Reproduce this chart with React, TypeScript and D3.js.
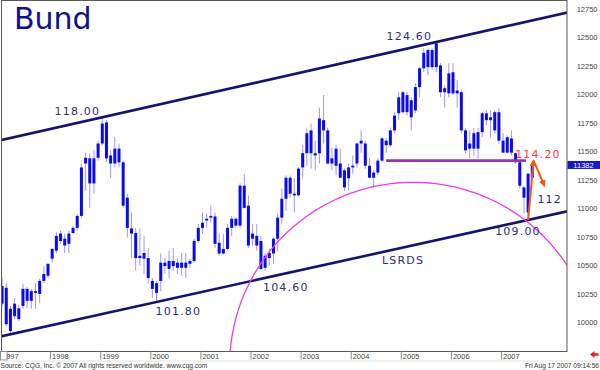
import React from 'react';
import * as d3 from 'd3';

// monthly Bund future, Jan 1997 .. Aug 2007 (price x100)
const openPx = [
  10165, 10305, 9925, 10055, 10125, 10145, 10295, 10190, 10275, 10250,
  10365, 10410, 10560, 10630, 10780, 10735, 10690, 10785, 10830, 10935,
  11395, 11440, 11220, 11445, 11570, 11755, 11465, 11395, 11525, 11405,
  11095, 10825, 10785, 10565, 10610, 10565, 10365, 10260, 10365, 10525,
  10470, 10540, 10480, 10525, 10480, 10515, 10540, 10715, 10830, 10895,
  10920, 10930, 10700, 10605, 10645, 10830, 10910, 10850, 11200, 11025,
  10735, 10760, 10715, 10480, 10565, 10605, 10735, 10920, 11085, 11270,
  11130, 11115, 11360, 11485, 11685, 11485, 11485, 11775, 11685, 11395,
  11525, 11395, 11335, 11265, 11360, 11395, 11570, 11570, 11375, 11270,
  11315, 11420, 11595, 11555, 11685, 11835, 11845, 11995, 11800, 11860,
  12065, 12230, 12390, 12240, 12450, 12255, 12020, 12010, 12195, 12010,
  12020, 11685, 11525, 11525, 11670, 11670, 11835, 11775, 11685, 11845,
  11595, 11490, 11615, 11485, 11405, 11185, 10965, 11270,
];
const highPx = [
  10390, 10345, 10145, 10215, 10155, 10340, 10310, 10295, 10345, 10385,
  10495, 10515, 10655, 10790, 10805, 10780, 10805, 10850, 10955, 11395,
  11490, 11485, 11510, 11595, 11800, 11775, 11510, 11625, 11570, 11420,
  11130, 10965, 10830, 10825, 10760, 10655, 10390, 10365, 10605, 10565,
  10630, 10655, 10565, 10610, 10610, 10560, 10735, 10865, 10965, 10955,
  11025, 10965, 10780, 10780, 10865, 10935, 10920, 11220, 11305, 11115,
  10865, 10865, 10760, 10605, 10645, 10745, 10955, 11175, 11290, 11290,
  11265, 11360, 11555, 11705, 11745, 11595, 11885, 11995, 11710, 11535,
  11555, 11525, 11350, 11395, 11465, 11580, 11685, 11595, 11445, 11335,
  11440, 11625, 11615, 11710, 11845, 12020, 12035, 12020, 11975, 12100,
  12240, 12405, 12405, 12405, 12460, 12275, 12080, 12275, 12275, 12125,
  12035, 11705, 11685, 11705, 11705, 11845, 11860, 11860, 11860, 11880,
  11660, 11640, 11685, 11490, 11420, 11200, 11315, 11420,
];
const lowPx = [
  10145, 9970, 9900, 10030, 10015, 10120, 10125, 10120, 10120, 10170,
  10345, 10390, 10525, 10605, 10690, 10610, 10610, 10780, 10805, 10920,
  11155, 11005, 11130, 11420, 11555, 11405, 11265, 11360, 11360, 11005,
  10745, 10565, 10455, 10500, 10425, 10345, 10215, 10180, 10275, 10425,
  10390, 10455, 10425, 10410, 10390, 10480, 10525, 10700, 10780, 10830,
  10875, 10655, 10585, 10595, 10630, 10760, 10830, 10830, 11000, 10655,
  10675, 10630, 10460, 10455, 10500, 10515, 10630, 10865, 10980, 11095,
  10965, 11105, 11270, 11375, 11350, 11335, 11395, 11570, 11385, 11335,
  11290, 11265, 11155, 11155, 11305, 11360, 11490, 11350, 11265, 11185,
  11290, 11405, 11485, 11535, 11660, 11775, 11835, 11815, 11685, 11835,
  11975, 12195, 12170, 12215, 12195, 11975, 11885, 11975, 11995, 11885,
  11660, 11485, 11445, 11465, 11440, 11625, 11730, 11625, 11660, 11570,
  11485, 11485, 11465, 11395, 11175, 10955, 10900, 11265,
];
const closePx = [
  10320, 9985, 10120, 10165, 10030, 10295, 10190, 10275, 10260, 10365,
  10425, 10515, 10645, 10760, 10715, 10675, 10780, 10830, 10935, 11360,
  11445, 11220, 11440, 11570, 11745, 11440, 11395, 11525, 11405, 11025,
  10830, 10780, 10565, 10585, 10560, 10390, 10295, 10345, 10525, 10495,
  10540, 10495, 10525, 10480, 10525, 10540, 10715, 10830, 10875, 10910,
  10935, 10690, 10605, 10645, 10830, 10910, 10850, 11200, 11005, 10675,
  10780, 10675, 10470, 10585, 10610, 10735, 10920, 11085, 11270, 11130,
  11115, 11350, 11485, 11660, 11485, 11465, 11790, 11685, 11395, 11440,
  11375, 11270, 11185, 11360, 11375, 11570, 11595, 11375, 11270, 11315,
  11420, 11615, 11555, 11685, 11815, 11975, 12020, 11845, 11950, 12065,
  12230, 12365, 12240, 12390, 12240, 12020, 12055, 12185, 12010, 12035,
  11685, 11510, 11570, 11660, 11525, 11835, 11775, 11800, 11845, 11595,
  11490, 11625, 11490, 11405, 11200, 11095, 11305, 11382,
];

const yearLabels = ['1997', '1998', '1999', '2000', '2001', '2002', '2003', '2004', '2005', '2006', '2007'];
const priceTicks = [10000, 10250, 10500, 10750, 11000, 11250, 11500, 11750, 12000, 12250, 12500, 12750];
const lastPrice = 11382;

// drawing tools, as [month index, price]
const upperChannel = [[24.5, 11800], [104.5, 12460]];
const lowerChannel = [[37.5, 10180], [126.5, 10900]];
const neckline = [[92.5, 11420], [126, 11420]];
const arcCenter = [99, 9620];
const arcRadii = [44, 1610];
const projectionUp = [[126.5, 10900], [127.8, 11420]];
const projectionDown = [[127.8, 11420], [130.4, 11200]];

const priceLabels = [
  { text: '118.00', m: 24.5, p: 11800, dx: -2, dy: -2, anchor: 'end', color: '#2e2e7a' },
  { text: '124.60', m: 104.5, p: 12460, dx: -4, dy: -2, anchor: 'end', color: '#2e2e7a' },
  { text: '101.80', m: 37.5, p: 10180, dx: -1, dy: 13.5, anchor: 'start', color: '#2e2e7a' },
  { text: '104.60', m: 62.5, p: 10460, dx: 2, dy: 20.5, anchor: 'start', color: '#2e2e7a' },
  { text: '109.00', m: 126.5, p: 10900, dx: -33, dy: 15.5, anchor: 'start', color: '#2e2e7a' },
  { text: '114.20', m: 126.5, p: 11420, dx: -13, dy: -3, anchor: 'start', color: '#ff3b3b' },
  { text: '112', m: 130.4, p: 11200, dx: -7, dy: 17, anchor: 'start', color: '#2e2e7a' },
  { text: 'LSRDS', m: 91.5, p: 10510, dx: 0, dy: 0, anchor: 'start', color: '#2e2e7a' },
];

const W = 600;
const H = 370;
const plot = { left: 1.5, top: 1, right: 567, bottom: 351.5 };

export default function App() {
  const x = d3.scaleLinear().domain([0, 120]).range([0, 501]);
  const y = d3.scaleLinear().domain([10000, 12750]).range([322.5, 9]);

  const candles = closePx.map((c, i) => ({
    m: i + 0.5, o: openPx[i], h: highPx[i], l: lowPx[i], c,
  }));

  const extend = (pts: number[][]) => {
    const [[m0, p0], [m1, p1]] = pts;
    const slope = (p1 - p0) / (m1 - m0);
    const a = x.invert(plot.left) - 1;
    const b = x.invert(plot.right) + 1;
    return [[a, p0 + slope * (a - m0)], [b, p0 + slope * (b - m0)]];
  };
  const seg = d3.line<number[]>().x(d => x(d[0])).y(d => y(d[1]));

  const arcPts = d3.range(0, 361).map(a => {
    const t = (a * Math.PI) / 180;
    return [arcCenter[0] + arcRadii[0] * Math.cos(t), arcCenter[1] + arcRadii[1] * Math.sin(t)];
  });

  const axisFont = "'Liberation Sans', Arial, sans-serif";
  const labelFont = "'DejaVu Sans', Verdana, sans-serif";

  return (
    <svg width={W} height={H} viewBox={`0 0 ${W} ${H}`}
      style={{ position: 'absolute', left: 0, top: 0, display: 'block', background: '#fff' }}>
      <defs>
        <clipPath id="plotClip">
          <rect x={plot.left} y={plot.top} width={plot.right - plot.left} height={plot.bottom - plot.top} />
        </clipPath>
        <marker id="arrowHead" viewBox="0 0 10 10" refX="8" refY="5" markerWidth="7" markerHeight="7"
          markerUnits="userSpaceOnUse" orient="auto">
          <path d="M0,0 L10,5 L0,10 z" fill="#ee5a14" />
        </marker>
      </defs>

      <rect x={0} y={0} width={W} height={H} fill="#fff" />

      <g clipPath="url(#plotClip)">
        {/* candles */}
        {candles.map((d, i) => {
          const cx = x(d.m);
          const top = y(Math.max(d.o, d.c));
          const bot = y(Math.min(d.o, d.c));
          return (
            <g key={i}>
              <line x1={cx} x2={cx} y1={y(d.h)} y2={y(d.l)} stroke="#9a9af2" strokeWidth={1} />
              <rect x={cx - 1.5} y={top} width={3} height={Math.max(1, bot - top)} fill="#0a0af0" />
            </g>
          );
        })}

        {/* channel */}
        <path d={seg(extend(upperChannel)) || ''} stroke="#14146e" strokeWidth={2.6} fill="none" />
        <path d={seg(extend(lowerChannel)) || ''} stroke="#14146e" strokeWidth={2.6} fill="none" />

        {/* rounding top */}
        <path d={seg(arcPts) || ''} stroke="#f03cf0" strokeWidth={1.3} fill="none" />

        {/* neckline */}
        <path d={seg(neckline) || ''} stroke="#9a35aa" strokeWidth={2.6} fill="none" />

        {/* projection arrows */}
        <path d={seg(projectionUp) || ''} stroke="#ee5a14" strokeWidth={2} fill="none" markerEnd="url(#arrowHead)" />
        <path d={seg(projectionDown) || ''} stroke="#ee5a14" strokeWidth={2} fill="none" markerEnd="url(#arrowHead)" />
      </g>

      {/* labels */}
      {priceLabels.map((l, i) => (
        <text key={i} x={x(l.m) + l.dx} y={y(l.p) + l.dy} textAnchor={l.anchor as any}
          fontFamily={labelFont} fontSize={11} letterSpacing={1.2} fill={l.color}>
          {l.text}
        </text>
      ))}

      <text x={14} y={29} fontFamily={labelFont} fontSize={30} fill="#10108a">Bund</text>

      {/* frame */}
      <rect x={plot.left} y={plot.top - 0.5} width={plot.right - plot.left} height={plot.bottom - plot.top + 0.5}
        fill="none" stroke="#5a5a5a" strokeWidth={1} />

      {/* price axis */}
      {priceTicks.map(t => (
        <text key={t} x={597.5} y={y(t) + 2.6} textAnchor="end" fontFamily={axisFont} fontSize={7.5} fill="#444">
          {t}
        </text>
      ))}
      <rect x={plot.right + 0.5} y={y(lastPrice) - 4} width={W - plot.right - 0.5} height={8} fill="#1818c8" />
      <text x={583.5} y={y(lastPrice) + 2.6} textAnchor="middle" fontFamily={axisFont} fontSize={7.5} fill="#fff">
        {lastPrice}
      </text>

      {/* time axis */}
      {yearLabels.map((yl, i) => {
        const tx = x(i * 12);
        return (
          <g key={yl}>
            <line x1={tx + 0.5} x2={tx + 0.5} y1={plot.bottom} y2={359.5} stroke="#8a8a8a" />
            <text x={tx + 2} y={358.5} fontFamily={axisFont} fontSize={7.5} fill="#444">{yl}</text>
          </g>
        );
      })}
      <rect x={0.5} y={plot.bottom} width={6.5} height={8.5} fill="#fff" stroke="#8a8a8a" />
      <line x1={0} x2={W} y1={361} y2={361} stroke="#dbe6db" />
      <path d="M590,354.5 L594.5,351 L594.5,353.3 L598.5,353.3 L598.5,355.8 L594.5,355.8 L594.5,358 z" fill="#ee1c1c" />

      {/* footer */}
      <text x={0.5} y={368} fontFamily={axisFont} fontSize={6.6} fill="#333">
        Source: CQG, Inc. © 2007 All rights reserved worldwide. www.cqg.com
      </text>
      <text x={599} y={368} textAnchor="end" fontFamily={axisFont} fontSize={6.6} fill="#333">
        Fri Aug 17 2007 09:14:56
      </text>
    </svg>
  );
}
